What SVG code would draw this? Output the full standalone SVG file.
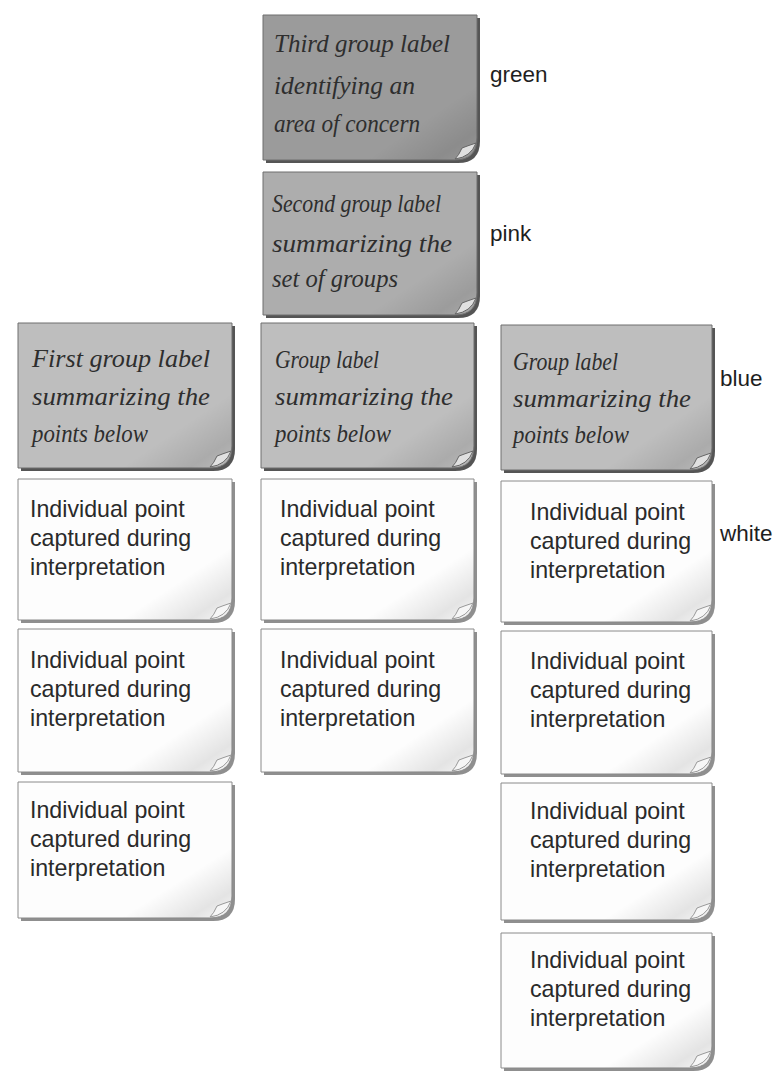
<svg xmlns="http://www.w3.org/2000/svg" width="779" height="1071" viewBox="0 0 779 1071">
<style>
.shadow{fill:#555}
.edge{stroke:#6e6e6e;stroke-width:1}
.green{fill:#9b9b9b}
.pink{fill:#adadad}
.blue{fill:#bebebe}
.white{fill:#fdfdfd;stroke:#8a8a8a}
.shade{fill:url(#curlShade);stroke:none}
.fold{fill:#e0e0e0;stroke:#666;stroke-width:1}
.hand{font-family:"Liberation Serif","DejaVu Serif",serif;font-style:italic;font-size:26px;fill:#2e2e2e}
.print{font-family:"Liberation Sans",Arial,sans-serif;font-size:23.2px;fill:#2a2a2a}
.lbl{font-family:"Liberation Sans",Arial,sans-serif;font-size:22.5px;fill:#1e1e1e}
</style>
<defs>
<linearGradient id="curlShade" x1="0" y1="0" x2="1" y2="1">
<stop offset="0.74" stop-color="#000" stop-opacity="0"/>
<stop offset="0.9" stop-color="#000" stop-opacity="0.1"/>
<stop offset="1" stop-color="#000" stop-opacity="0.02"/>
</linearGradient>
</defs>
<rect width="779" height="1071" fill="#ffffff"/>
<g id="connectors"/>

<g id="note-green" transform="translate(263,15)">
<path class="shadow" d="M3,3 H217 V126 Q217,148 195,148 H3 Z"/>
<path class="green edge" d="M0,0 H214 V123 Q214,145 192,145 H0 Z"/>
<path class="shade" d="M0,0 H214 V123 Q214,145 192,145 H0 Z"/>
<path class="fold" d="M213,128 Q204,131 199,133 Q196,140 192,144 Q208,142 213,128 Z"/>
<text class="hand" lengthAdjust="spacingAndGlyphs"><tspan x="11" y="37" textLength="176" lengthAdjust="spacingAndGlyphs">Third group label</tspan></text>
<text class="hand"><tspan x="11" y="79" textLength="141" lengthAdjust="spacingAndGlyphs">identifying an</tspan></text>
<text class="hand"><tspan x="11" y="117" textLength="146" lengthAdjust="spacingAndGlyphs">area of concern</tspan></text>
</g>

<g id="note-pink" transform="translate(263,172)">
<path class="shadow" d="M3,3 H217 V124 Q217,146 195,146 H3 Z"/>
<path class="pink edge" d="M0,0 H214 V121 Q214,143 192,143 H0 Z"/>
<path class="shade" d="M0,0 H214 V121 Q214,143 192,143 H0 Z"/>
<path class="fold" d="M213,126 Q204,129 199,131 Q196,138 192,142 Q208,140 213,126 Z"/>
<text class="hand"><tspan x="9" y="40" textLength="169" lengthAdjust="spacingAndGlyphs">Second group label</tspan></text>
<text class="hand"><tspan x="9" y="80" textLength="180" lengthAdjust="spacingAndGlyphs">summarizing the</tspan></text>
<text class="hand"><tspan x="9" y="115" textLength="126" lengthAdjust="spacingAndGlyphs">set of groups</tspan></text>
</g>

<g id="label-green"><text class="lbl" x="490" y="82">green</text></g>
<g id="label-pink"><text class="lbl" x="490" y="241">pink</text></g>
<g id="label-blue"><text class="lbl" x="720" y="386">blue</text></g>
<g id="label-white"><text class="lbl" x="720" y="541">white</text></g>

<g id="note-blue-1" transform="translate(18,323)">
<path class="shadow" d="M3,3 H217 V126 Q217,148 195,148 H3 Z"/>
<path class="blue edge" d="M0,0 H214 V123 Q214,145 192,145 H0 Z"/>
<path class="shade" d="M0,0 H214 V123 Q214,145 192,145 H0 Z"/>
<path class="fold" d="M213,128 Q204,131 199,133 Q196,140 192,144 Q208,142 213,128 Z"/>
<text class="hand"><tspan x="14" y="44" textLength="178" lengthAdjust="spacingAndGlyphs">First group label</tspan></text>
<text class="hand"><tspan x="14" y="82" textLength="178" lengthAdjust="spacingAndGlyphs">summarizing the</tspan></text>
<text class="hand"><tspan x="14" y="119" textLength="116" lengthAdjust="spacingAndGlyphs">points below</tspan></text>
</g>

<g id="note-blue-2" transform="translate(261,323)">
<path class="shadow" d="M3,3 H216 V126 Q216,148 194,148 H3 Z"/>
<path class="blue edge" d="M0,0 H213 V123 Q213,145 191,145 H0 Z"/>
<path class="shade" d="M0,0 H213 V123 Q213,145 191,145 H0 Z"/>
<path class="fold" d="M212,128 Q203,131 198,133 Q195,140 191,144 Q207,142 212,128 Z"/>
<text class="hand"><tspan x="14" y="45" textLength="104" lengthAdjust="spacingAndGlyphs">Group label</tspan></text>
<text class="hand"><tspan x="14" y="82" textLength="178" lengthAdjust="spacingAndGlyphs">summarizing the</tspan></text>
<text class="hand"><tspan x="14" y="119" textLength="116" lengthAdjust="spacingAndGlyphs">points below</tspan></text>
</g>

<g id="note-blue-3" transform="translate(501,325)">
<path class="shadow" d="M3,3 H214 V126 Q214,148 192,148 H3 Z"/>
<path class="blue edge" d="M0,0 H211 V123 Q211,145 189,145 H0 Z"/>
<path class="shade" d="M0,0 H211 V123 Q211,145 189,145 H0 Z"/>
<path class="fold" d="M210,128 Q201,131 196,133 Q193,140 189,144 Q205,142 210,128 Z"/>
<text class="hand"><tspan x="12" y="45" textLength="105" lengthAdjust="spacingAndGlyphs">Group label</tspan></text>
<text class="hand"><tspan x="12" y="82" textLength="178" lengthAdjust="spacingAndGlyphs">summarizing the</tspan></text>
<text class="hand"><tspan x="12" y="118" textLength="116" lengthAdjust="spacingAndGlyphs">points below</tspan></text>
</g>

<g id="note-white-1-1" transform="translate(18,479)">
<path class="shadow" d="M3,3 H217 V122 Q217,144 195,144 H3 Z" style="fill:#8f8f8f"/>
<path class="white" d="M0,0 H214 V119 Q214,141 192,141 H0 Z"/>
<path class="shade" d="M0,0 H214 V119 Q214,141 192,141 H0 Z"/>
<path class="fold" d="M213,124 Q204,127 199,129 Q196,136 192,140 Q208,138 213,124 Z" style="fill:#f6f6f6;stroke:#999"/>
<text class="print"><tspan x="12" y="38">Individual point</tspan><tspan x="12" y="67">captured during</tspan><tspan x="12" y="96">interpretation</tspan></text>
</g>

<g id="note-white-1-2" transform="translate(18,629)">
<path class="shadow" d="M3,3 H217 V124 Q217,146 195,146 H3 Z" style="fill:#8f8f8f"/>
<path class="white" d="M0,0 H214 V121 Q214,143 192,143 H0 Z"/>
<path class="shade" d="M0,0 H214 V121 Q214,143 192,143 H0 Z"/>
<path class="fold" d="M213,126 Q204,129 199,131 Q196,138 192,142 Q208,140 213,126 Z" style="fill:#f6f6f6;stroke:#999"/>
<text class="print"><tspan x="12" y="39">Individual point</tspan><tspan x="12" y="68">captured during</tspan><tspan x="12" y="97">interpretation</tspan></text>
</g>

<g id="note-white-1-3" transform="translate(18,782)">
<path class="shadow" d="M3,3 H217 V117 Q217,139 195,139 H3 Z" style="fill:#8f8f8f"/>
<path class="white" d="M0,0 H214 V114 Q214,136 192,136 H0 Z"/>
<path class="shade" d="M0,0 H214 V114 Q214,136 192,136 H0 Z"/>
<path class="fold" d="M213,119 Q204,122 199,124 Q196,131 192,135 Q208,133 213,119 Z" style="fill:#f6f6f6;stroke:#999"/>
<text class="print"><tspan x="12" y="36">Individual point</tspan><tspan x="12" y="65">captured during</tspan><tspan x="12" y="94">interpretation</tspan></text>
</g>

<g id="note-white-2-1" transform="translate(261,479)">
<path class="shadow" d="M3,3 H216 V122 Q216,144 194,144 H3 Z" style="fill:#8f8f8f"/>
<path class="white" d="M0,0 H213 V119 Q213,141 191,141 H0 Z"/>
<path class="shade" d="M0,0 H213 V119 Q213,141 191,141 H0 Z"/>
<path class="fold" d="M212,124 Q203,127 198,129 Q195,136 191,140 Q207,138 212,124 Z" style="fill:#f6f6f6;stroke:#999"/>
<text class="print"><tspan x="19" y="38">Individual point</tspan><tspan x="19" y="67">captured during</tspan><tspan x="19" y="96">interpretation</tspan></text>
</g>

<g id="note-white-2-2" transform="translate(261,629)">
<path class="shadow" d="M3,3 H216 V124 Q216,146 194,146 H3 Z" style="fill:#8f8f8f"/>
<path class="white" d="M0,0 H213 V121 Q213,143 191,143 H0 Z"/>
<path class="shade" d="M0,0 H213 V121 Q213,143 191,143 H0 Z"/>
<path class="fold" d="M212,126 Q203,129 198,131 Q195,138 191,142 Q207,140 212,126 Z" style="fill:#f6f6f6;stroke:#999"/>
<text class="print"><tspan x="19" y="39">Individual point</tspan><tspan x="19" y="68">captured during</tspan><tspan x="19" y="97">interpretation</tspan></text>
</g>

<g id="note-white-3-1" transform="translate(501,481)">
<path class="shadow" d="M3,3 H214 V122 Q214,144 192,144 H3 Z" style="fill:#8f8f8f"/>
<path class="white" d="M0,0 H211 V119 Q211,141 189,141 H0 Z"/>
<path class="shade" d="M0,0 H211 V119 Q211,141 189,141 H0 Z"/>
<path class="fold" d="M210,124 Q201,127 196,129 Q193,136 189,140 Q205,138 210,124 Z" style="fill:#f6f6f6;stroke:#999"/>
<text class="print"><tspan x="29" y="39">Individual point</tspan><tspan x="29" y="68">captured during</tspan><tspan x="29" y="97">interpretation</tspan></text>
</g>

<g id="note-white-3-2" transform="translate(501,631)">
<path class="shadow" d="M3,3 H214 V124 Q214,146 192,146 H3 Z" style="fill:#8f8f8f"/>
<path class="white" d="M0,0 H211 V121 Q211,143 189,143 H0 Z"/>
<path class="shade" d="M0,0 H211 V121 Q211,143 189,143 H0 Z"/>
<path class="fold" d="M210,126 Q201,129 196,131 Q193,138 189,142 Q205,140 210,126 Z" style="fill:#f6f6f6;stroke:#999"/>
<text class="print"><tspan x="29" y="38">Individual point</tspan><tspan x="29" y="67">captured during</tspan><tspan x="29" y="96">interpretation</tspan></text>
</g>

<g id="note-white-3-3" transform="translate(501,783)">
<path class="shadow" d="M3,3 H214 V118 Q214,140 192,140 H3 Z" style="fill:#8f8f8f"/>
<path class="white" d="M0,0 H211 V115 Q211,137 189,137 H0 Z"/>
<path class="shade" d="M0,0 H211 V115 Q211,137 189,137 H0 Z"/>
<path class="fold" d="M210,120 Q201,123 196,125 Q193,132 189,136 Q205,134 210,120 Z" style="fill:#f6f6f6;stroke:#999"/>
<text class="print"><tspan x="29" y="36">Individual point</tspan><tspan x="29" y="65">captured during</tspan><tspan x="29" y="94">interpretation</tspan></text>
</g>

<g id="note-white-3-4" transform="translate(501,933)">
<path class="shadow" d="M3,3 H214 V116 Q214,138 192,138 H3 Z" style="fill:#8f8f8f"/>
<path class="white" d="M0,0 H211 V113 Q211,135 189,135 H0 Z"/>
<path class="shade" d="M0,0 H211 V113 Q211,135 189,135 H0 Z"/>
<path class="fold" d="M210,118 Q201,121 196,123 Q193,130 189,134 Q205,132 210,118 Z" style="fill:#f6f6f6;stroke:#999"/>
<text class="print"><tspan x="29" y="35">Individual point</tspan><tspan x="29" y="64">captured during</tspan><tspan x="29" y="93">interpretation</tspan></text>
</g>
</svg>
